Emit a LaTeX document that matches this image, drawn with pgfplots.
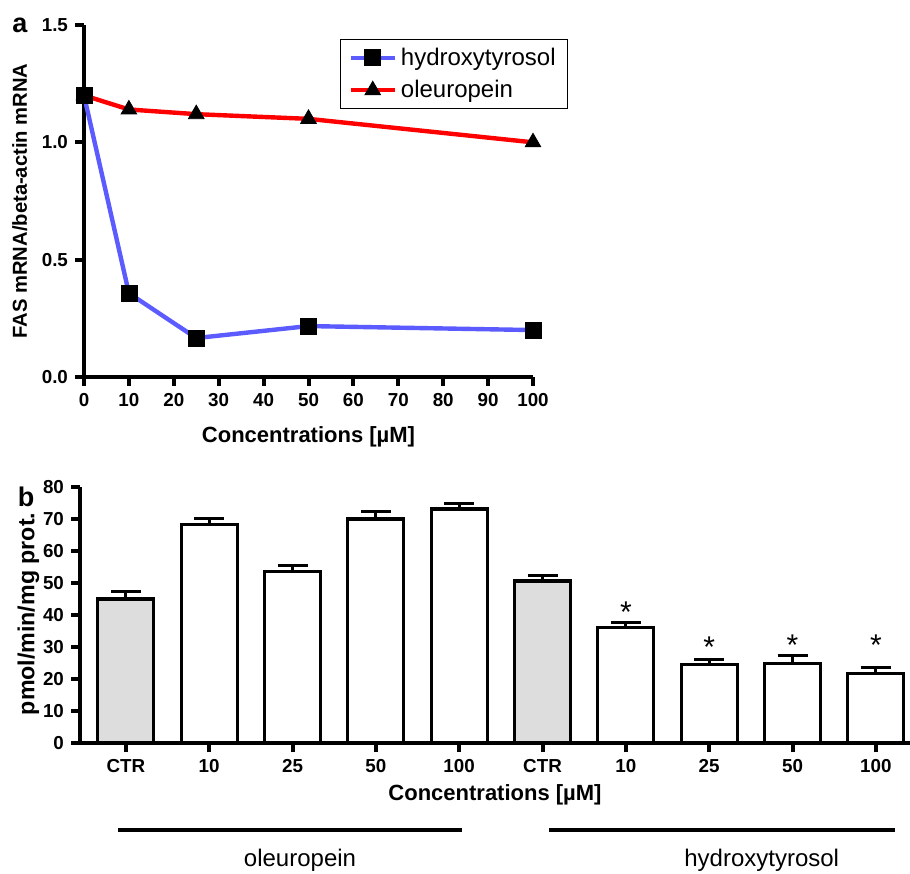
\documentclass[border=0pt]{standalone}
\usepackage{fontspec}
\setmainfont{Liberation Sans}
\usepackage{pgfplots}
\pgfplotsset{compat=1.18}
\definecolor{hyblue}{HTML}{5B5BFF}
\definecolor{ctrgray}{HTML}{DDDDDD}

\begin{document}
\begin{tikzpicture}
\useasboundingbox (0,0) rectangle (455pt,436.5pt);
\pgfplotsset{
  common/.style={
    scale only axis, axis lines*=left,
    axis line style={line width=2pt},
    tick align=outside, major tick length=4.5pt,
    major tick style={line width=2pt, black},
    /pgf/number format/assume math mode=true,
    tick label style={font=\fontsize{9.4}{11}\selectfont\bfseries},
    label style={font=\fontsize{11}{13}\selectfont\bfseries},
  }
}

% panel a
\begin{axis}[common, at={(42pt,248pt)}, anchor=south west,
  width=224.5pt, height=176pt,
  xmin=0, xmax=100, ymin=0, ymax=1.5,
  xtick={0,10,...,100}, ytick={0,0.5,1,1.5},
  yticklabel style={/pgf/number format/.cd, fixed, fixed zerofill, precision=1},
  xlabel={Concentrations [µM]}, ylabel={FAS mRNA/beta-actin mRNA},
  xlabel style={at={(axis description cs:0.5,-0.17)}, anchor=center},
  ylabel style={at={(axis description cs:-0.143,0.5)}, anchor=center,
    font=\fontsize{10.1}{12}\selectfont\bfseries},
  legend style={at={(axis description cs:0.570,0.960)}, anchor=north west,
    draw=black, line width=0.6pt, font=\fontsize{12}{14}\selectfont,
    inner xsep=4pt, inner ysep=2pt, row sep=2pt,
    /tikz/every even column/.append style={column sep=3pt}},
  legend cell align=left,
  reverse legend,
  legend image code/.code={\draw[mark repeat=2, mark phase=2, #1] plot coordinates {(0pt,0pt) (11pt,0pt) (22pt,0pt)};},
]
\addplot[red, line width=2.2pt, mark=triangle*, mark size=4.5pt,
  mark options={black, solid, line width=0.4pt}]
  coordinates {(0,1.2) (10,1.14) (25,1.12) (50,1.10) (100,1.0)};
\addlegendentry{oleuropein}
\addplot[hyblue, line width=2.2pt, mark=square*, mark size=4pt,
  mark options={black, solid, line width=0.4pt}]
  coordinates {(0,1.2) (10,0.357) (25,0.166) (50,0.217) (100,0.2)};
\addlegendentry{hydroxytyrosol}
\end{axis}

% panel b
\begin{axis}[common, at={(40pt,65pt)}, anchor=south west,
  width=415pt, height=128pt,
  xmin=-0.55, xmax=9.41, ymin=0, ymax=80, clip=false,
  xtick={0,...,9}, xticklabels={CTR,10,25,50,100,CTR,10,25,50,100},
  ytick={0,10,...,80},
  xlabel={Concentrations [µM]}, ylabel={pmol/min/mg prot.},
  xlabel style={at={(axis description cs:0.5,-0.203)}, anchor=center},
  ylabel style={at={(axis description cs:-0.062,0.504)}, anchor=center,
    font=\fontsize{11.6}{14}\selectfont\bfseries},
]
\addplot[ybar, bar width=28pt, bar shift=0pt, fill=ctrgray, draw=black, line width=1.6pt,
  error bars/.cd, y dir=plus, y explicit,
  error bar style={line width=1.5pt, black},
  error mark options={rotate=90, mark size=7.5pt, line width=1.5pt, black}]
  coordinates {(0,45.0) +- (0,2.2) (5,50.6) +- (0,1.6)};
\addplot[ybar, bar width=28pt, bar shift=0pt, fill=white, draw=black, line width=1.6pt,
  error bars/.cd, y dir=plus, y explicit,
  error bar style={line width=1.5pt, black},
  error mark options={rotate=90, mark size=7.5pt, line width=1.5pt, black}]
  coordinates {(1,68.2) +- (0,1.9) (2,53.6) +- (0,1.8) (3,70.0) +- (0,2.4)
    (4,73.1) +- (0,1.9) (6,36.1) +- (0,1.5) (7,24.5) +- (0,1.7)
    (8,24.8) +- (0,2.4) (9,21.6) +- (0,2.1)};
% significance stars (baseline positions)
\addplot[draw=none, mark=none, nodes near coords={*},
  every node near coord/.append style={anchor=base, font=\fontsize{15}{17}\selectfont, black}]
  coordinates {(6,37.8) (7,26.6) (8,27.5) (9,27.2)};

\draw[line width=2pt] (axis cs:-0.096,-27.2) -- (axis cs:4.03,-27.2);
\draw[line width=2pt] (axis cs:5.08,-27.2) -- (axis cs:9.23,-27.2);
\node[font=\fontsize{12}{14}\selectfont] at (axis cs:2.09,-36.6) {oleuropein};
\node[font=\fontsize{12}{14}\selectfont] at (axis cs:7.63,-36.6) {hydroxytyrosol};
\end{axis}

\node[font=\fontsize{13.5}{15}\selectfont\bfseries] at (10pt,424pt) {a};
\node[font=\fontsize{13.5}{15}\selectfont\bfseries] at (13pt,188pt) {b};
\end{tikzpicture}
\end{document}
